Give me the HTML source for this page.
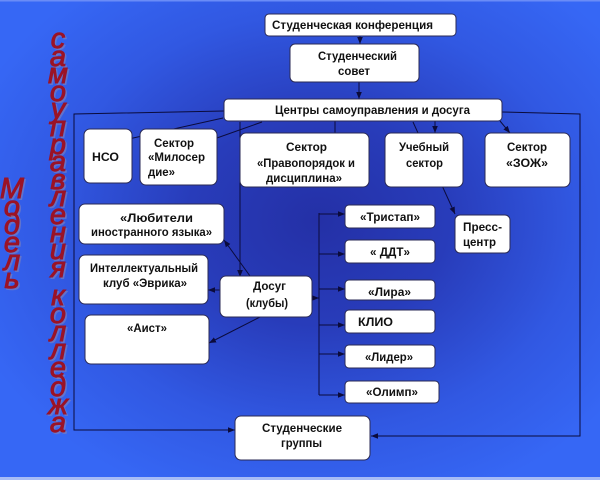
<!DOCTYPE html>
<html>
<head>
<meta charset="utf-8">
<style>
  html,body{margin:0;padding:0;width:600px;height:480px;overflow:hidden;background:#3366f4;}
  svg{display:block;}
  .b{fill:#ffffff;stroke:#2a2a55;stroke-width:1;}
  .t{font-family:"Liberation Sans","DejaVu Sans",sans-serif;font-weight:bold;font-size:12px;fill:#111;}
  .r{font-family:"Liberation Sans","DejaVu Sans",sans-serif;font-style:italic;font-size:29px;fill:#9b1326;stroke:#9b1326;stroke-width:0.9;text-anchor:middle;}
  .rs{font-family:"Liberation Sans","DejaVu Sans",sans-serif;font-style:italic;font-size:29px;fill:#8a86b6;stroke:#8a86b6;stroke-width:0.9;text-anchor:middle;opacity:0.55;}
  .l{stroke:#0b0b3c;stroke-width:1;fill:none;}
</style>
</head>
<body>
<svg width="600" height="480" viewBox="0 0 600 480" xmlns="http://www.w3.org/2000/svg">
  <defs>
    <radialGradient id="bg" cx="0.53" cy="0.46" r="0.62">
      <stop offset="0" stop-color="#2430a6"/>
      <stop offset="0.35" stop-color="#283cba"/>
      <stop offset="0.7" stop-color="#3158e2"/>
      <stop offset="1" stop-color="#3667f5"/>
    </radialGradient>
    <marker id="a" viewBox="0 0 10 10" refX="10" refY="5" markerWidth="7" markerHeight="7" orient="auto" markerUnits="userSpaceOnUse">
      <path d="M0,1 L10,5 L0,9 z" fill="#0b0b3c"/>
    </marker>
  </defs>

  <rect x="0" y="0" width="600" height="480" fill="url(#bg)"/>
  <rect x="0" y="0" width="600" height="1.5" fill="#6a8cf7"/>
  <rect x="0" y="477" width="600" height="3" fill="#a7bcf6"/>

  <!-- vertical red text: Модель -->
  <g>
    <text class="rs" x="13.5" y="199.5">М</text><text class="r" x="12" y="198">М</text>
    <text class="rs" x="13.5" y="217.5">о</text><text class="r" x="12" y="216">о</text>
    <text class="rs" x="13.5" y="235.5">д</text><text class="r" x="12" y="234">д</text>
    <text class="rs" x="13.5" y="253.5">е</text><text class="r" x="12" y="252">е</text>
    <text class="rs" x="13.5" y="271.5">л</text><text class="r" x="12" y="270">л</text>
    <text class="rs" x="13.5" y="289.5">ь</text><text class="r" x="12" y="288">ь</text>
  </g>
  <!-- самоуправления -->
  <g>
    <text class="rs" x="59.5" y="49.5">с</text><text class="r" x="58" y="48">с</text>
    <text class="rs" x="59.5" y="67.5">а</text><text class="r" x="58" y="66">а</text>
    <text class="rs" x="59.5" y="84.5">м</text><text class="r" x="58" y="83">м</text>
    <text class="rs" x="59.5" y="102.5">о</text><text class="r" x="58" y="101">о</text>
    <text class="rs" x="59.5" y="119.5">у</text><text class="r" x="58" y="118">у</text>
    <text class="rs" x="59.5" y="137.5">п</text><text class="r" x="58" y="136">п</text>
    <text class="rs" x="59.5" y="155.5">р</text><text class="r" x="58" y="154">р</text>
    <text class="rs" x="59.5" y="172.5">а</text><text class="r" x="58" y="171">а</text>
    <text class="rs" x="59.5" y="190.5">в</text><text class="r" x="58" y="189">в</text>
    <text class="rs" x="59.5" y="207.5">л</text><text class="r" x="58" y="206">л</text>
    <text class="rs" x="59.5" y="225.5">е</text><text class="r" x="58" y="224">е</text>
    <text class="rs" x="59.5" y="243.5">н</text><text class="r" x="58" y="242">н</text>
    <text class="rs" x="59.5" y="260.5">и</text><text class="r" x="58" y="259">и</text>
    <text class="rs" x="59.5" y="278.5">я</text><text class="r" x="58" y="277">я</text>
  </g>
  <!-- колледжа -->
  <g>
    <text class="rs" x="59.5" y="306.5">к</text><text class="r" x="58" y="305">к</text>
    <text class="rs" x="59.5" y="324.5">о</text><text class="r" x="58" y="323">о</text>
    <text class="rs" x="59.5" y="342.5">л</text><text class="r" x="58" y="341">л</text>
    <text class="rs" x="59.5" y="360.5">л</text><text class="r" x="58" y="359">л</text>
    <text class="rs" x="59.5" y="378.5">е</text><text class="r" x="58" y="377">е</text>
    <text class="rs" x="59.5" y="397.5">д</text><text class="r" x="58" y="396">д</text>
    <text class="rs" x="59.5" y="415.5">ж</text><text class="r" x="58" y="414">ж</text>
    <text class="rs" x="59.5" y="433.5">а</text><text class="r" x="58" y="432">а</text>
  </g>

  <!-- connectors (behind boxes) -->
  <line class="l" x1="360" y1="36" x2="360" y2="44" marker-end="url(#a)"/>
  <line class="l" x1="359" y1="82" x2="359" y2="99" marker-end="url(#a)"/>
  <polyline class="l" points="502,112 580,114 580,436 371,436" marker-end="url(#a)"/>
  <polyline class="l" points="224,111 74,114 74,430 235,430" marker-end="url(#a)"/>
  <line class="l" x1="223" y1="118" x2="115" y2="142" marker-end="url(#a)"/>
  <line class="l" x1="262" y1="122" x2="200" y2="144" marker-end="url(#a)"/>
  <line class="l" x1="335" y1="121" x2="335" y2="140" marker-end="url(#a)"/>
  <line class="l" x1="435" y1="121" x2="435" y2="133" marker-end="url(#a)"/>
  <line class="l" x1="500" y1="121" x2="510" y2="133" marker-end="url(#a)"/>
  <line class="l" x1="413" y1="122" x2="455" y2="214" marker-end="url(#a)"/>
  <line class="l" x1="240" y1="122" x2="240" y2="277" marker-end="url(#a)"/>
  <line class="l" x1="250" y1="276" x2="224" y2="240" marker-end="url(#a)"/>
  <line class="l" x1="220" y1="290" x2="208" y2="290" marker-end="url(#a)"/>
  <line class="l" x1="260" y1="317" x2="209" y2="343" marker-end="url(#a)"/>
  <line class="l" x1="312" y1="298" x2="319" y2="298" marker-end="url(#a)"/>
  <line class="l" x1="319" y1="213" x2="319" y2="395"/>
  <line class="l" x1="319" y1="214" x2="345" y2="214" marker-end="url(#a)"/>
  <line class="l" x1="319" y1="254" x2="345" y2="254" marker-end="url(#a)"/>
  <line class="l" x1="319" y1="289" x2="345" y2="289" marker-end="url(#a)"/>
  <line class="l" x1="319" y1="325" x2="345" y2="325" marker-end="url(#a)"/>
  <line class="l" x1="319" y1="354" x2="345" y2="354" marker-end="url(#a)"/>
  <line class="l" x1="319" y1="395" x2="345" y2="395" marker-end="url(#a)"/>

  <!-- boxes -->
  <rect class="b" x="265" y="14" width="191" height="22" rx="4"/>
  <rect class="b" x="290" y="44" width="129" height="38" rx="5"/>
  <rect class="b" x="224" y="99" width="278" height="22" rx="4"/>
  <rect class="b" x="84" y="129" width="48" height="54" rx="6"/>
  <rect class="b" x="140" y="129" width="77" height="56" rx="6"/>
  <rect class="b" x="240" y="133" width="129" height="54" rx="6"/>
  <rect class="b" x="385" y="133" width="78" height="54" rx="6"/>
  <rect class="b" x="485" y="133" width="85" height="54" rx="6"/>
  <rect class="b" x="455" y="215" width="55" height="38" rx="5"/>
  <rect class="b" x="79" y="204" width="145" height="40" rx="6"/>
  <rect class="b" x="79" y="255" width="129" height="49" rx="6"/>
  <rect class="b" x="85" y="315" width="124" height="49" rx="6"/>
  <rect class="b" x="220" y="276" width="92" height="41" rx="6"/>
  <rect class="b" x="345" y="205" width="90" height="23" rx="4"/>
  <rect class="b" x="345" y="240" width="90" height="23" rx="4"/>
  <rect class="b" x="345" y="280" width="90" height="20" rx="4"/>
  <rect class="b" x="345" y="310" width="90" height="23" rx="4"/>
  <rect class="b" x="345" y="345" width="90" height="23" rx="4"/>
  <rect class="b" x="345" y="381" width="94" height="22" rx="4"/>
  <rect class="b" x="235" y="416" width="135" height="44" rx="6"/>

  <!-- labels -->
  <text class="t" x="272" y="29" textLength="161" lengthAdjust="spacingAndGlyphs">Студенческая конференция</text>
  <text class="t" x="318" y="60" textLength="79" lengthAdjust="spacingAndGlyphs">Студенческий</text>
  <text class="t" x="338" y="75" textLength="32" lengthAdjust="spacingAndGlyphs">совет</text>
  <text class="t" x="275" y="114" textLength="195" lengthAdjust="spacingAndGlyphs">Центры самоуправления и досуга</text>
  <text class="t" x="92" y="161" textLength="27" lengthAdjust="spacingAndGlyphs">НСО</text>
  <text class="t" x="154" y="147" textLength="40" lengthAdjust="spacingAndGlyphs">Сектор</text>
  <text class="t" x="148" y="161" textLength="57" lengthAdjust="spacingAndGlyphs">«Милосер</text>
  <text class="t" x="148" y="176" textLength="27" lengthAdjust="spacingAndGlyphs">дие»</text>
  <text class="t" x="286" y="151" textLength="41" lengthAdjust="spacingAndGlyphs">Сектор</text>
  <text class="t" x="257" y="167" textLength="98" lengthAdjust="spacingAndGlyphs">«Правопорядок и</text>
  <text class="t" x="266" y="182" textLength="76" lengthAdjust="spacingAndGlyphs">дисциплина»</text>
  <text class="t" x="399" y="151" textLength="50" lengthAdjust="spacingAndGlyphs">Учебный</text>
  <text class="t" x="406" y="167" textLength="37" lengthAdjust="spacingAndGlyphs">сектор</text>
  <text class="t" x="507" y="151" textLength="40" lengthAdjust="spacingAndGlyphs">Сектор</text>
  <text class="t" x="506" y="167" textLength="42" lengthAdjust="spacingAndGlyphs">«ЗОЖ»</text>
  <text class="t" x="463" y="231" textLength="39" lengthAdjust="spacingAndGlyphs">Пресс-</text>
  <text class="t" x="463" y="246" textLength="33" lengthAdjust="spacingAndGlyphs">центр</text>
  <text class="t" x="120" y="222" textLength="73" lengthAdjust="spacingAndGlyphs">«Любители</text>
  <text class="t" x="91" y="236" textLength="121" lengthAdjust="spacingAndGlyphs">иностранного языка»</text>
  <text class="t" x="90" y="272" textLength="108" lengthAdjust="spacingAndGlyphs">Интеллектуальный</text>
  <text class="t" x="103" y="287" textLength="84" lengthAdjust="spacingAndGlyphs">клуб «Эврика»</text>
  <text class="t" x="127" y="332" textLength="40" lengthAdjust="spacingAndGlyphs">«Аист»</text>
  <text class="t" x="253" y="290" textLength="33" lengthAdjust="spacingAndGlyphs">Досуг</text>
  <text class="t" x="246" y="307" textLength="42" lengthAdjust="spacingAndGlyphs">(клубы)</text>
  <text class="t" x="360" y="221" textLength="60" lengthAdjust="spacingAndGlyphs">«Тристап»</text>
  <text class="t" x="370" y="256" textLength="40" lengthAdjust="spacingAndGlyphs">« ДДТ»</text>
  <text class="t" x="368" y="296" textLength="43" lengthAdjust="spacingAndGlyphs">«Лира»</text>
  <text class="t" x="358" y="326" textLength="35" lengthAdjust="spacingAndGlyphs">КЛИО</text>
  <text class="t" x="365" y="361" textLength="48" lengthAdjust="spacingAndGlyphs">«Лидер»</text>
  <text class="t" x="366" y="396" textLength="52" lengthAdjust="spacingAndGlyphs">«Олимп»</text>
  <text class="t" x="262" y="432" textLength="80" lengthAdjust="spacingAndGlyphs">Студенческие</text>
  <text class="t" x="281" y="447" textLength="41" lengthAdjust="spacingAndGlyphs">группы</text>
</svg>
</body>
</html>
